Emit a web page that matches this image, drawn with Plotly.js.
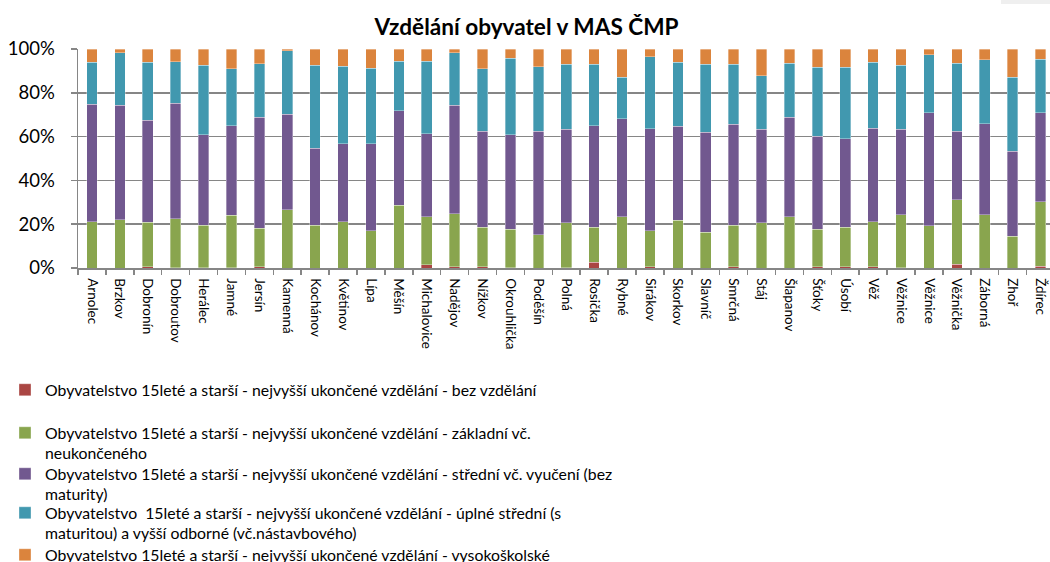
<!DOCTYPE html>
<html>
<head>
<meta charset="utf-8">
<script src="https://cdn.plot.ly/plotly-3.0.1.min.js"></script>
<style>html,body{margin:0;padding:0;background:#fff;}#chart{width:1050px;height:562px;}</style>
</head>
<body>
<div id="chart"></div>
<script>
const categories = ['Arnolec','Brzkov','Dobronín','Dobroutov','Herálec','Jamné','Jersín','Kamenná','Kochánov','Květinov','Lípa','Měšín','Michalovice','Nadějov','Nížkov','Okrouhlička','Poděšín','Polná','Rosička','Rybné','Sirákov','Skorkov','Slavníč','Smrčná','Stáj','Šlapanov','Šťoky','Úsobí','Věž','Věžnice','Věžnice','Věžnička','Záborná','Zhoř','Ždírec'];

const bezVzdelani = [0,0,0.5,0.2,0.2,0.2,0.6,0,0,0, 0,0,1.5,0.5,0.5,0.2,0,0.2,2.6,0, 0.5,0,0,0.5,0,0,0.5,0.5,0.5,0.2, 0,1.7,0,0,0.8];
const zakladni = [21.2,22.1,20.4,22.3,19.4,24.0,17.5,26.6,19.6,21.2, 16.9,28.6,21.9,24.3,18.1,17.5,15.2,20.5,16.0,23.4, 16.5,21.8,16.4,19.0,20.7,23.3,17.2,18.1,20.7,24.2, 19.2,29.5,24.4,14.5,29.5];
const stredniBezMaturity = [53.5,52.2,46.5,52.8,41.3,40.8,50.8,43.6,35.0,35.6, 39.9,43.1,37.8,49.5,43.8,43.2,47.2,42.6,46.4,44.8, 46.5,42.9,45.5,46.1,42.6,45.5,42.4,40.5,42.6,38.9, 51.6,31.2,41.4,38.8,40.5];
const uplneStredni = [19.2,23.9,26.5,18.9,31.6,26.0,24.3,29.0,37.9,35.3, 34.4,22.8,33.3,24.0,28.5,34.8,29.4,29.7,28.0,18.9, 33.0,29.2,31.1,27.4,24.5,24.8,31.5,32.5,30.1,29.2, 26.5,31.1,29.3,33.8,24.6];
const vysokoskolske = [6.1,1.8,6.1,5.8,7.5,9.0,6.8,0.8,7.5,7.9, 8.8,5.5,5.5,1.7,9.1,4.3,8.2,7.0,7.0,12.9, 3.5,6.1,7.0,7.0,12.2,6.4,8.4,8.4,6.1,7.5, 2.7,6.5,4.9,12.9,4.6];

const seriesNames = [
  'Obyvatelstvo 15leté a starší - nejvyšší ukončené vzdělání - bez vzdělání',
  'Obyvatelstvo 15leté a starší - nejvyšší ukončené vzdělání - základní vč.<br>neukončeného',
  'Obyvatelstvo 15leté a starší - nejvyšší ukončené vzdělání - střední vč. vyučení (bez<br>maturity)',
  'Obyvatelstvo\u00a0 15leté a starší - nejvyšší ukončené vzdělání - úplné střední (s<br>maturitou) a vyšší odborné (vč.nástavbového)',
  'Obyvatelstvo 15leté a starší - nejvyšší ukončené vzdělání - vysokoškolské'
];
const seriesValues = [bezVzdelani, zakladni, stredniBezMaturity, uplneStredni, vysokoskolske];
const colors = ['#AA4643', '#89A54E', '#71588F', '#4198AF', '#DB843D'];

const idx = categories.map((_, i) => i);
const FONT = 'Lato, "Open Sans", sans-serif';
const legendIds = ['legend', 'legend2', 'legend3', 'legend4', 'legend5'];
const legendTopsPx = [373, 416, 457, 496, 538];

const traces = seriesValues.map((vals, s) => ({
  type: 'bar',
  name: seriesNames[s],
  legend: legendIds[s],
  x: idx,
  y: vals,
  marker: {color: colors[s], line: {color: 'rgba(255,255,255,0.45)', width: 0.75}},
  hoverinfo: 'skip'
}));

const layout = {
  width: 1050, height: 562,
  margin: {l: 78, r: 0, t: 49, b: 294, autoexpand: false},
  paper_bgcolor: '#ffffff', plot_bgcolor: '#ffffff',
  barmode: 'stack', barnorm: 'percent', bargap: 0.62,
  title: {text: 'Vzdělání obyvatel v MAS ČMP', font: {family: FONT, size: 22.6, color: '#000', weight: 'bold'},
          x: 526.5/1050, xref: 'container', xanchor: 'center', y: 1 - 27/562, yref: 'container', yanchor: 'middle'},
  xaxis: {
    range: [-0.5, 34.34], tickmode: 'array', tickvals: idx, ticktext: categories, tickangle: 90,
    ticks: '', showline: true, linecolor: '#868686', linewidth: 1.5, showgrid: false, zeroline: false,
    tickfont: {family: FONT, size: 13.5, color: '#000'}, ticklabelstandoff: 6,
    minor: {tickmode: 'array', tickvals: idx.map(i => i - 0.5), ticks: 'outside', ticklen: 5, tickcolor: '#868686', tickwidth: 1.5, showgrid: false}
  },
  yaxis: {
    range: [0, 100], tickmode: 'linear', tick0: 0, dtick: 20, ticksuffix: '%',
    ticks: 'outside', ticklen: 6, tickcolor: '#868686', tickwidth: 1.5,
    showline: true, linecolor: '#868686', linewidth: 1.5,
    showgrid: true, gridcolor: '#868686', gridwidth: 1.5, zeroline: false,
    tickfont: {family: FONT, size: 18.5, color: '#000'}, ticklabelstandoff: 12
  },
  shapes: [{type: 'rect', xref: 'paper', yref: 'paper', x0: (1001 - 78) / 972, x1: (1050 - 78) / 972,
            y0: (268 - 4) / 219, y1: 268 / 219, fillcolor: '#efefef', line: {width: 0}, layer: 'above'}],
  showlegend: true
};

legendIds.forEach((id, s) => {
  layout[id] = {
    x: (5 - 78) / 972, xanchor: 'left', y: -(legendTopsPx[s] - 268) / 219, yanchor: 'top',
    valign: 'top', bgcolor: 'rgba(0,0,0,0)', borderwidth: 0,
    font: {family: FONT, size: 15.8, color: '#000'}
  };
});

Plotly.newPlot('chart', traces, layout, {staticPlot: true});
</script>
</body>
</html>
